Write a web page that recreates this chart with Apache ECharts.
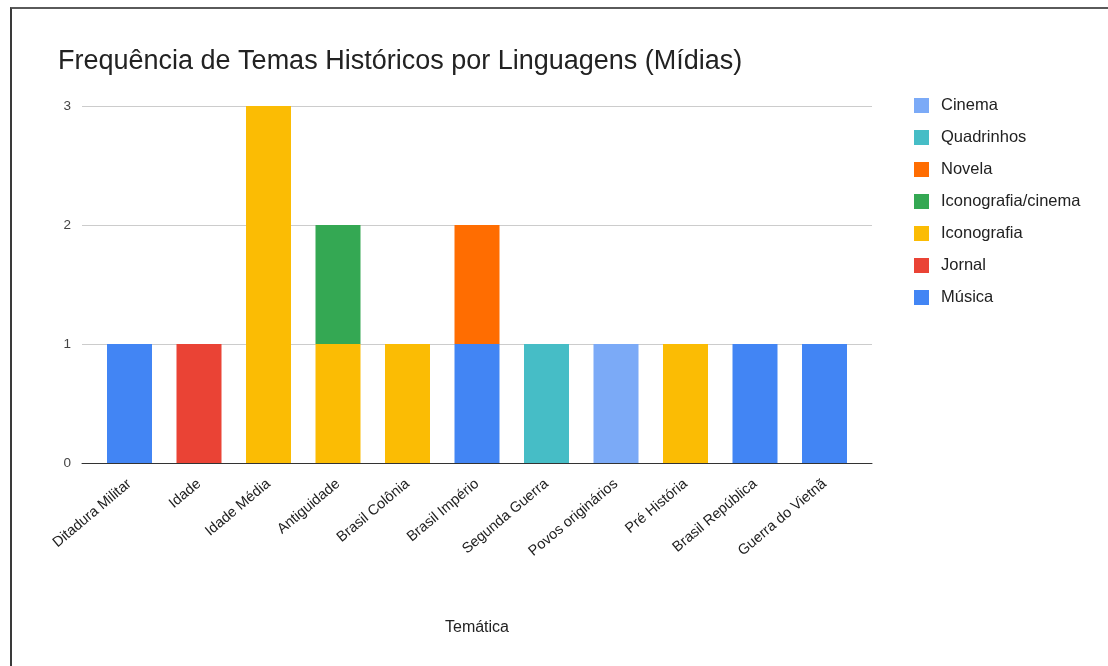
<!DOCTYPE html>
<html>
<head>
<meta charset="utf-8">
<script src="https://cdn.jsdelivr.net/npm/echarts@6/dist/echarts.min.js"></script>
<style>
  html, body { margin: 0; padding: 0; background: #fff; }
  #chart { width: 1108px; height: 666px; }
  #frame { position: absolute; left: 10px; top: 7px; width: 1108px; height: 680px;
           border-top: 2px solid #5a5a5a; border-left: 2px solid #3a3a3a; pointer-events: none; }
</style>
</head>
<body>
<div id="chart"></div>
<div id="frame"></div>
<script>
const categories = ['Ditadura Militar', 'Idade', 'Idade Média', 'Antiguidade', 'Brasil Colônia',
  'Brasil Império', 'Segunda Guerra', 'Povos originários', 'Pré História', 'Brasil República', 'Guerra do Vietnã'];

// stack order, bottom to top
const seriesNames = ['Música', 'Jornal', 'Iconografia', 'Iconografia/cinema', 'Novela', 'Quadrinhos', 'Cinema'];
const musica            = [1, null, null, null, null, 1, null, null, null, 1, 1];
const jornal            = [null, 1, null, null, null, null, null, null, null, null, null];
const iconografia       = [null, null, 3, 1, 1, null, null, null, 1, null, null];
const iconografiaCinema = [null, null, null, 1, null, null, null, null, null, null, null];
const novela            = [null, null, null, null, null, 1, null, null, null, null, null];
const quadrinhos        = [null, null, null, null, null, null, 1, null, null, null, null];
const cinema            = [null, null, null, null, null, null, null, 1, null, null, null];
const seriesValues = [musica, jornal, iconografia, iconografiaCinema, novela, quadrinhos, cinema];
const seriesColors = ['#4285F4', '#EA4335', '#FBBC04', '#34A853', '#FF6D01', '#46BDC6', '#7BAAF7'];
const legendOrder = ['Cinema', 'Quadrinhos', 'Novela', 'Iconografia/cinema', 'Iconografia', 'Jornal', 'Música'];
const yTicks = [0, 1, 2, 3];

const FONT = 'Liberation Sans, Arial, sans-serif';
const chart = echarts.init(document.getElementById('chart'), null, { renderer: 'canvas' });

const series = seriesNames.map((name, i) => ({
  name: name,
  type: 'bar',
  stack: 'total',
  xAxisIndex: 1,
  yAxisIndex: 1,
  barWidth: 45,
  itemStyle: { color: seriesColors[i] },
  data: seriesValues[i]
}));

chart.setOption({
  animation: false,
  backgroundColor: '#fff',
  textStyle: { fontFamily: FONT },
  title: {
    text: 'Frequência de Temas Históricos por Linguagens (Mídias)',
    left: 53, top: 43,
    textStyle: { fontFamily: FONT, fontSize: 27, fontWeight: 'normal', color: '#222' }
  },
  legend: {
    orient: 'vertical',
    left: 909, top: 92,
    itemWidth: 15, itemHeight: 15, itemGap: 15,
    icon: 'rect',
    data: legendOrder,
    textStyle: { fontFamily: FONT, fontSize: 16.5, color: '#222', padding: [0, 0, 0, 7] }
  },
  grid: [
    { left: 82, right: 236, top: 106, bottom: 203 },
    { left: 94.75, right: 248.75, top: 106, bottom: 203 }
  ],
  xAxis: [
    {
      type: 'category', gridIndex: 0, data: categories,
      axisLine: { show: true, lineStyle: { color: '#333', width: 1 } },
      axisTick: { show: false }, axisLabel: { show: false },
      name: 'Temática', nameLocation: 'middle', nameGap: 157,
      nameTextStyle: { fontFamily: FONT, fontSize: 16, color: '#222' }
    },
    {
      type: 'category', gridIndex: 1, data: categories,
      axisLine: { show: false }, axisTick: { show: false },
      axisLabel: { rotate: 40, margin: 19, fontFamily: FONT, fontSize: 14.5, color: '#222' }
    }
  ],
  yAxis: [
    {
      type: 'value', gridIndex: 0, min: yTicks[0], max: yTicks[yTicks.length - 1], interval: 1,
      axisLine: { show: false }, axisTick: { show: false },
      axisLabel: { margin: 11, fontFamily: FONT, fontSize: 13.5, color: '#444' },
      splitLine: { lineStyle: { color: '#cccccc', width: 1 } }
    },
    {
      type: 'value', gridIndex: 1, min: yTicks[0], max: yTicks[yTicks.length - 1], interval: 1,
      show: false, splitLine: { show: false }
    }
  ],
  series: series
});
</script>
</body>
</html>
